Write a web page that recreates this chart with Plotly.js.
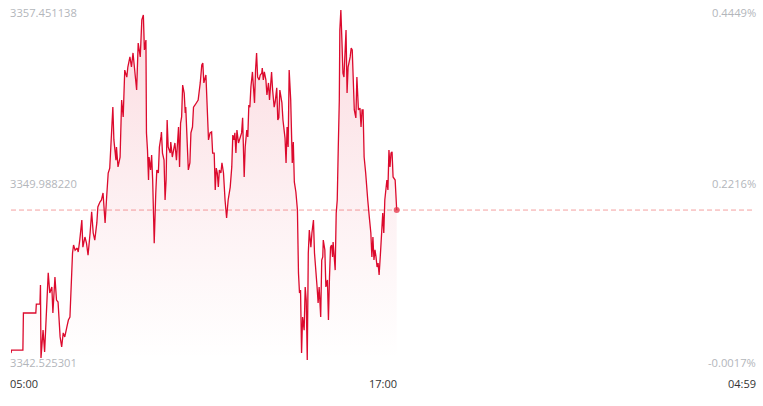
<!DOCTYPE html>
<html>
<head>
<meta charset="utf-8">
<script src="https://cdn.plot.ly/plotly-3.0.1.min.js"></script>
<style>
  html, body { margin: 0; padding: 0; background: #ffffff; }
  #chart { width: 763px; height: 406px; }
</style>
</head>
<body>
<div id="chart"></div>
<script>
// ---- data ----
const sessionDate = "2024-01-01";
const nextDate = "2024-01-02";

const times = ["05:00","05:01","05:23","05:24","05:48","05:49","05:56","05:57","05:58","06:00",
"06:02","06:05","06:08","06:12","06:15","06:19","06:21","06:25","06:28","06:31",
"06:35","06:38","06:41","06:44","06:48","06:51","06:54","06:56","06:59","07:01",
"07:04","07:08","07:10","07:13","07:17","07:19","07:23","07:26","07:29","07:33",
"07:36","07:39","07:42","07:46","07:48","07:52","07:55","07:58","08:02","08:05",
"08:08","08:11","08:15","08:17","08:19","08:23","08:24","08:27","08:31","08:34",
"08:37","08:40","08:44","08:46","08:50","08:53","08:56","09:00","09:03","09:06",
"09:10","09:13","09:16","09:18","09:21","09:22","09:24","09:26","09:27","09:30",
"09:32","09:34","09:37","09:40","09:42","09:45","09:47","09:50","09:51","09:53",
"09:56","09:58","10:00","10:02","10:04","10:08","10:09","10:12","10:14","10:17",
"10:20","10:24","10:26","10:28","10:30","10:32","10:35","10:37","10:38","10:41",
"10:43","10:46","10:48","10:51","10:53","10:56","10:59","11:02","11:06","11:09",
"11:11","11:13","11:17","11:19","11:22","11:25","11:28","11:30","11:33","11:35",
"11:37","11:39","11:41","11:43","11:46","11:48","11:51","11:54","11:57","12:00",
"12:04","12:07","12:09","12:11","12:13","12:15","12:17","12:20","12:23","12:26",
"12:28","12:31","12:33","12:36","12:38","12:40","12:42","12:44","12:47","12:49",
"12:51","12:53","12:55","12:57","13:00","13:02","13:05","13:06","13:08","13:10",
"13:13","13:15","13:18","13:20","13:22","13:24","13:26","13:29","13:31","13:34",
"13:36","13:38","13:40","13:44","13:46","13:48","13:50","13:52","13:54","13:56",
"13:58","14:01","14:04","14:06","14:08","14:11","14:14","14:16","14:18","14:20",
"14:22","14:24","14:27","14:29","14:31","14:33","14:35","14:37","14:40","14:42",
"14:45","14:47","14:50","14:52","14:54","14:56","14:59","15:01","15:03","15:04",
"15:07","15:09","15:12","15:14","15:16","15:18","15:20","15:22","15:23","15:27",
"15:29","15:31","15:33","15:35","15:36","15:38","15:40","15:42","15:44","15:46",
"15:48","15:50","15:52","15:56","15:58","16:00","16:02","16:04","16:07","16:09",
"16:12","16:15","16:17","16:19","16:21","16:23","16:26","16:28","16:30","16:33",
"16:36","16:38","16:40","16:42","16:44","16:46","16:48","16:50","16:52","16:55",
"16:57","16:59","17:01","17:03","17:07","17:09","17:11","17:13","17:15","17:17",
"17:19","17:23","17:26"];

const prices = [3342.82,3342.95,3342.95,3344.53,3344.53,3344.91,3344.91,3345.72,3342.61,3343.38,
3343.80,3342.87,3344.23,3346.24,3345.38,3345.64,3344.53,3346.06,3345.08,3345.00,
3343.51,3343.08,3343.68,3343.51,3343.93,3344.23,3344.36,3345.51,3347.09,3347.43,
3347.21,3347.30,3347.13,3347.64,3348.49,3347.34,3347.77,3347.51,3347.00,3347.94,
3348.84,3347.94,3347.64,3348.37,3349.05,3349.26,3349.35,3349.65,3348.37,3349.48,
3350.50,3350.71,3352.21,3353.31,3351.91,3351.05,3351.61,3350.76,3351.18,3353.61,
3352.89,3354.89,3354.59,3355.02,3355.45,3355.02,3355.62,3354.76,3354.04,3356.04,
3355.45,3357.03,3357.24,3355.75,3356.17,3352.21,3351.48,3350.20,3351.18,3350.63,
3351.27,3350.20,3347.51,3349.65,3350.63,3350.50,3351.61,3352.04,3352.25,3351.35,
3351.05,3349.35,3350.20,3352.76,3351.61,3351.35,3351.82,3351.18,3351.48,3351.78,
3351.05,3352.46,3350.76,3352.63,3352.89,3354.25,3353.91,3353.06,3353.31,3351.61,
3350.63,3350.93,3352.21,3352.46,3353.31,3353.40,3353.49,3353.61,3354.34,3355.11,
3355.19,3354.34,3354.68,3353.31,3351.91,3352.21,3352.25,3351.35,3351.35,3349.78,
3350.71,3350.50,3349.90,3350.63,3350.50,3350.93,3350.50,3349.35,3348.58,3349.35,
3349.90,3350.76,3352.12,3351.91,3352.21,3351.35,3352.33,3351.78,3352.04,3352.21,
3352.85,3350.33,3351.61,3352.33,3352.04,3353.40,3353.31,3354.17,3354.81,3354.17,
3353.49,3354.89,3355.62,3354.59,3354.47,3354.68,3354.76,3354.98,3354.47,3354.81,
3354.47,3353.83,3354.34,3353.61,3354.47,3354.81,3354.04,3353.31,3353.53,3354.13,
3352.76,3352.85,3354.04,3353.49,3352.76,3352.46,3351.99,3350.93,3352.46,3351.61,
3354.89,3353.61,3350.93,3351.82,3350.12,3349.69,3348.92,3346.24,3345.38,3345.51,
3342.82,3344.36,3343.80,3345.64,3345.08,3342.53,3347.09,3348.07,3347.34,3347.94,
3348.49,3347.09,3346.36,3345.64,3344.96,3345.64,3344.36,3346.79,3346.92,3347.64,
3347.22,3345.64,3345.94,3344.23,3346.06,3347.34,3347.43,3346.92,3347.56,3346.36,
3348.79,3349.35,3351.61,3353.61,3356.60,3357.45,3356.17,3354.76,3354.59,3356.17,
3356.60,3353.91,3355.02,3355.45,3355.83,3355.75,3354.04,3353.19,3352.85,3354.59,
3353.19,3353.27,3352.46,3353.19,3353.19,3351.18,3350.50,3349.65,3349.35,3348.62,
3347.94,3346.92,3347.77,3346.79,3347.22,3346.92,3346.49,3346.66,3346.15,3347.22,
3348.20,3348.79,3347.94,3349.35,3350.20,3349.78,3351.48,3350.76,3351.35,3351.40,
3350.33,3350.20,3348.92];

// axis extent and tick labels
const priceMin = 3342.525301;
const priceMax = 3357.451138;
const priceTickLabels = ["3342.525301", "3349.988220", "3357.451138"];
const pctTickLabels = ["-0.0017%", "0.2216%", "0.4449%"];
const timeTickLabels = ["05:00", "17:00", "04:59"];
const timeTickValues = [sessionDate + " 05:00", sessionDate + " 17:00", nextDate + " 04:59"];

// ---- build ----
const n = Math.min(times.length, prices.length);
const xs = times.slice(0, n).map(t => sessionDate + " " + t);
const ys = prices.slice(0, n);
const lastX = xs[n - 1];
const lastY = ys[n - 1];
const priceTickVals = [priceMin, (priceMin + priceMax) / 2, priceMax];

const lineColor = "#dc0a2d";
const labelGray = "#b3b6bb";
const font = "Open Sans, Noto Sans, sans-serif";

const traces = [
  {
    type: "scatter", mode: "lines",
    x: xs, y: ys,
    line: { color: lineColor, width: 1.3 },
    fill: "tozeroy",
    fillgradient: {
      type: "vertical",
      start: priceMin, stop: priceMax,
      colorscale: [[0, "rgba(230,30,60,0)"], [0.35, "rgba(230,30,60,0.05)"], [1, "rgba(230,30,60,0.16)"]]
    },
    hoverinfo: "skip"
  },
  {
    type: "scatter", mode: "markers",
    x: [lastX], y: [lastY],
    marker: { color: "rgba(228,50,70,0.75)", size: 6 },
    hoverinfo: "skip", cliponaxis: false
  }
];

const annotations = [];
const yShifts = [-2, 2, -2.5];
priceTickVals.forEach((v, i) => {
  annotations.push({
    xref: "paper", yref: "y", x: 0, y: v, xanchor: "left", yanchor: "middle",
    text: priceTickLabels[i], showarrow: false, xshift: -3, yshift: yShifts[i],
    font: { family: font, size: 11.2, color: labelGray }
  });
  annotations.push({
    xref: "paper", yref: "y", x: 1, y: v, xanchor: "right", yanchor: "middle",
    text: pctTickLabels[i], showarrow: false, xshift: 3, yshift: yShifts[i],
    font: { family: font, size: 11.2, color: labelGray }
  });
});
const xAnchors = ["left", "center", "right"];
const xShifts = [-3, 0, 3];
timeTickValues.forEach((v, i) => {
  annotations.push({
    xref: "x", yref: "paper", x: v, y: 0, xanchor: xAnchors[i], yanchor: "middle",
    text: timeTickLabels[i], showarrow: false, xshift: xShifts[i], yshift: -23.5,
    font: { family: font, size: 11, color: "#333333" }
  });
});

const layout = {
  width: 763, height: 406,
  margin: { l: 11, r: 8, t: 10, b: 46 },
  paper_bgcolor: "#ffffff", plot_bgcolor: "#ffffff",
  showlegend: false,
  xaxis: {
    type: "date", range: [timeTickValues[0], timeTickValues[2]],
    visible: false, showgrid: false, zeroline: false, fixedrange: true
  },
  yaxis: {
    range: [priceMin, priceMax], autorange: false,
    visible: false, showgrid: false, zeroline: false, fixedrange: true
  },
  shapes: [{
    type: "line", xref: "paper", x0: 0, x1: 1, yref: "y", y0: lastY, y1: lastY,
    line: { color: "rgba(240,110,110,0.65)", width: 1, dash: "5px,3px" },
    layer: "below"
  }],
  annotations: annotations
};

Plotly.newPlot("chart", traces, layout, { displayModeBar: false, staticPlot: true });
</script>
</body>
</html>
